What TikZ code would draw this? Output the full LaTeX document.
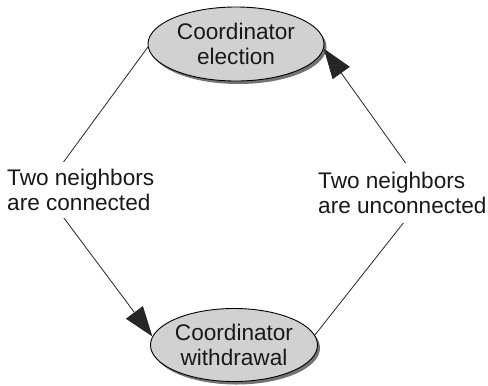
\documentclass[tikz,border=0pt]{standalone}
\usepackage{fontspec}
\setmainfont{Liberation Sans}
\usetikzlibrary{shapes.geometric,arrows.meta,shadows}
\begin{document}
\begin{tikzpicture}[x=1bp,y=-1bp,
  txt/.style={font=\fontsize{22.6bp}{24.5bp}\selectfont, text=black!90},
  state/.style={txt, ellipse, draw=black, line width=0.9bp, fill=black!18,
    inner sep=0pt, align=center,
    drop shadow={shadow xshift=2.5bp, shadow yshift=-3bp, fill=black!55, opacity=1}},
  cond/.style={txt, fill=white, align=left, inner xsep=2bp, inner ysep=7bp},
  link/.style={draw=black!85, line width=0.8bp},
  tip/.style={-{Triangle[length=30bp,width=21bp]}}]
  \useasboundingbox (0,0) rectangle (488,385);

  % the two states
  \node[state, minimum width=176bp, minimum height=74bp] (elect) at (236,44)
    {Coordinator\\[0bp]election};
  \node[state, minimum width=164bp, minimum height=73bp] (withdraw) at (234,345)
    {Coordinator\\[0bp]withdrawal};

  % bend points of the two transitions
  \coordinate (lbend) at (43,190);
  \coordinate (rbend) at (427,193);

  % transitions
  \draw[link, tip] (elect.182) -- (lbend) -- (withdraw.174);
  \draw[link, tip] (withdraw.7) -- (rbend) -- (elect.357);

  % conditions, masking the lines that pass behind them
  \node[cond, anchor=west] (conn) at (5,190) {Two neighbors\\are connected};
  \node[cond, anchor=west, inner ysep=9bp] (unconn) at (316,193) {Two neighbors\\are unconnected};
\end{tikzpicture}
\end{document}
